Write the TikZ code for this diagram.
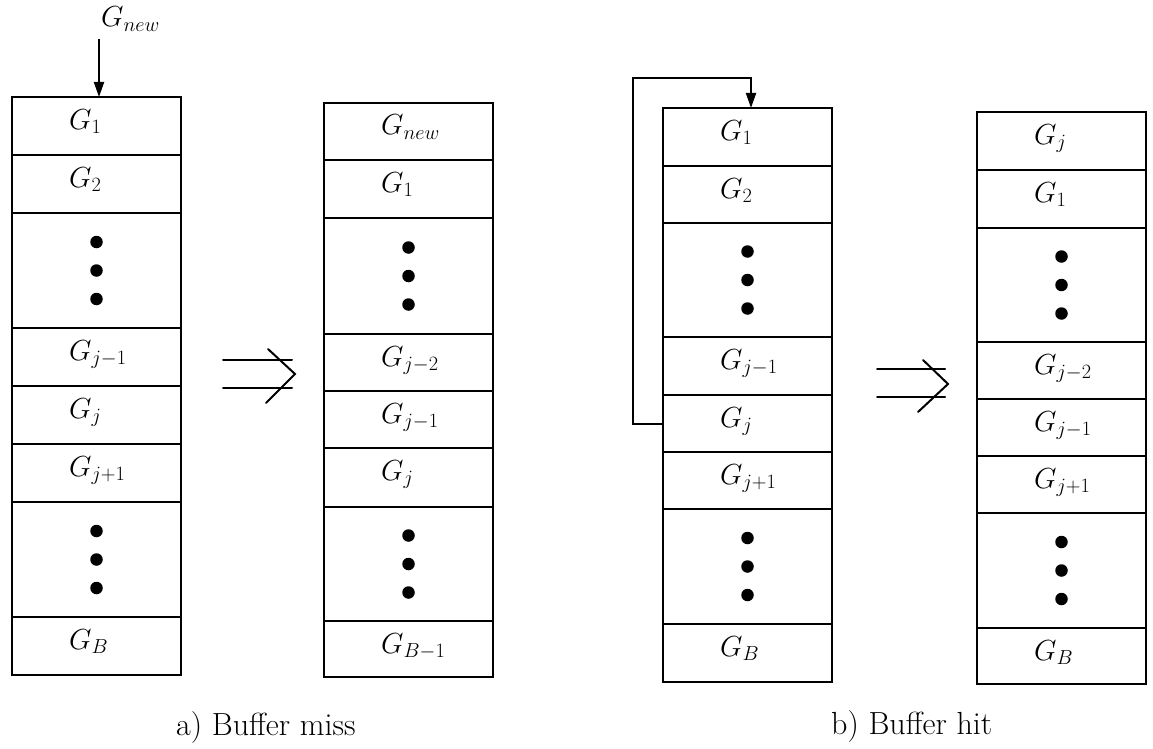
\RequirePackage{fix-cm}
\documentclass[tikz,border=0pt]{standalone}
\usetikzlibrary{arrows.meta}
\tikzset{
  cell/.style={draw, line width=2pt, minimum width=169pt, inner sep=0pt, outer sep=0pt, anchor=north west},
  lbl/.style={anchor=base west, inner sep=0pt, font=\fontsize{29}{34}\selectfont},
  bigdot/.style={circle, fill, draw=none, inner sep=0pt, minimum size=12.5pt},
  conn/.style={line width=2pt, -{Triangle[length=15pt,width=10pt]}},
  caption/.style={anchor=base west, inner sep=0pt, font=\fontsize{32}{38}\selectfont},
  implies/.style={line width=2pt, line cap=round, line join=miter}
}
% a labelled buffer slot: name, left x, top y, bottom y, label
\newcommand\slot[5]{%
  \node[cell, minimum height={#4pt-#3pt}] (#1) at (#2,#3) {};
  \node[lbl] (#1t) at ([xshift=57pt,yshift=-32pt]#1.north west) {$#5$};}
% a slot holding a vertical ellipsis of three dots
\newcommand\dotslot[4]{%
  \node[cell, minimum height={#4pt-#3pt}] (#1) at (#2,#3) {};
  \node[bigdot] (#1a) at ([yshift=28.5pt]#1.center) {};
  \node[bigdot] (#1b) at (#1.center) {};
  \node[bigdot] (#1c) at ([yshift=-28.5pt]#1.center) {};}
\begin{document}
\begin{tikzpicture}[x=1pt,y=-1pt]
\useasboundingbox (0,0) rectangle (1153,749);

% ---- a) buffer before the miss
\slot{a1}{12}{97}{155}{G_1}
\slot{a2}{12}{155}{213}{G_2}
\dotslot{a3}{12}{213}{328}
\slot{a4}{12}{328}{386}{G_{j-1}}
\slot{a5}{12}{386}{444}{G_j}
\slot{a6}{12}{444}{502}{G_{j+1}}
\dotslot{a7}{12}{502}{617}
\slot{a8}{12}{617}{675}{G_B}

\node[lbl] (gnew) at (101,27) {$G_{new}$};
\coordinate (newin) at (99,39);
\draw[conn] (newin) -- (newin |- a1.north);

% ---- a) buffer after the miss
\slot{b1}{324}{103}{160}{G_{new}}
\slot{b2}{324}{160}{218}{G_1}
\dotslot{b3}{324}{218}{334}
\slot{b4}{324}{334}{391}{G_{j-2}}
\slot{b5}{324}{391}{448}{G_{j-1}}
\slot{b6}{324}{448}{507}{G_j}
\dotslot{b7}{324}{507}{621}
\slot{b8}{324}{621}{677}{G_{B-1}}

% ---- b) buffer before the hit
\slot{c1}{663}{108}{166}{G_1}
\slot{c2}{663}{166}{223}{G_2}
\dotslot{c3}{663}{223}{337}
\slot{c4}{663}{337}{395}{G_{j-1}}
\slot{c5}{663}{395}{452}{G_j}
\slot{c6}{663}{452}{509}{G_{j+1}}
\dotslot{c7}{663}{509}{624}
\slot{c8}{663}{624}{682}{G_B}

\coordinate (loopcorner) at (633,78);
\draw[conn, line join=miter] (c5.west) -| (loopcorner) -| ([xshift=3.5pt]c1.north);

% ---- b) buffer after the hit
\slot{d1}{977}{112}{170}{G_j}
\slot{d2}{977}{170}{228}{G_1}
\dotslot{d3}{977}{228}{342}
\slot{d4}{977}{342}{399}{G_{j-2}}
\slot{d5}{977}{399}{456}{G_{j-1}}
\slot{d6}{977}{456}{513}{G_{j+1}}
\dotslot{d7}{977}{513}{628}
\slot{d8}{977}{628}{684}{G_B}

% ---- transition arrows
\draw[implies] (223,360) -- (292,360) (223,388) -- (292,388);
\draw[implies] (268,349) -- (295,374) -- (266,403);
\draw[implies] (877,369) -- (945,369) (877,397) -- (945,397);
\draw[implies] (923,360) -- (948,384) -- (918,412);

% ---- captions
\node[caption] (capa) at (176,735) {a) Buffer miss};
\node[caption] (capb) at (831,734) {b) Buffer hit};
\end{tikzpicture}
\end{document}
